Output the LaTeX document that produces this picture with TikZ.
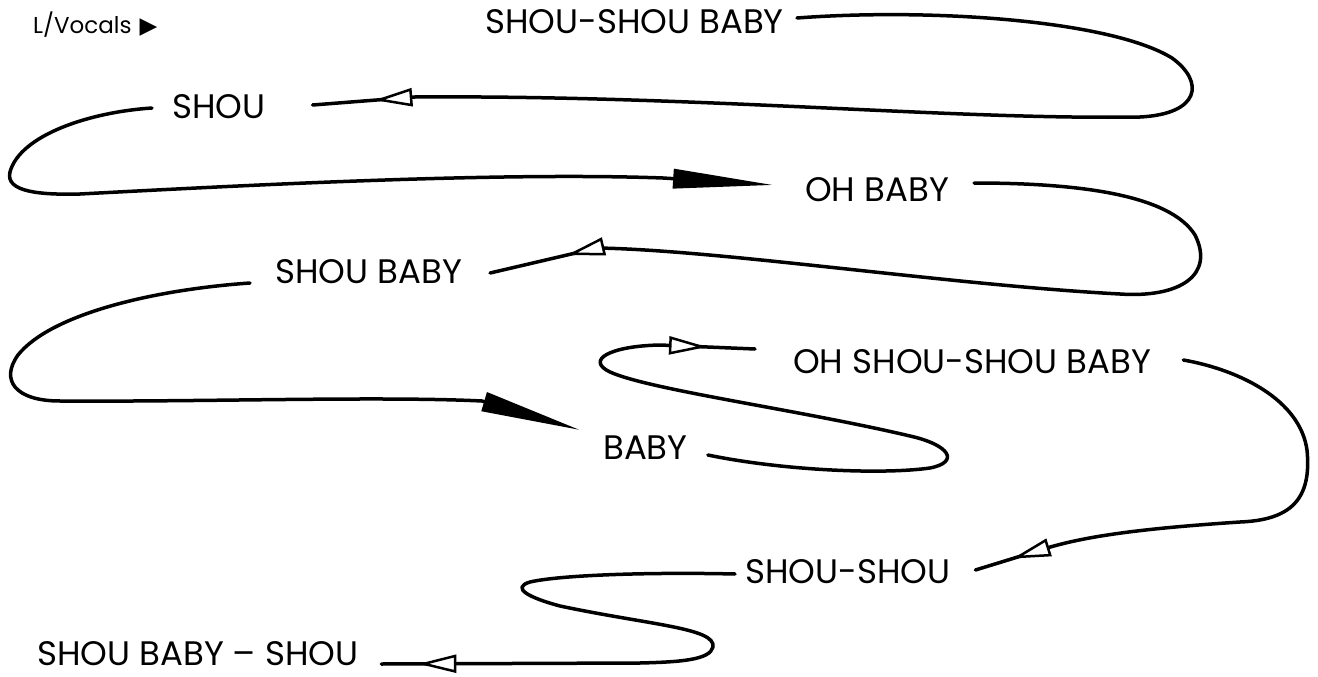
\documentclass[tikz,border=0pt]{standalone}
\usepackage{fontspec}
\usetikzlibrary{arrows.meta,decorations.markings,calc}
\newfontfamily\lyricfont{Poppins}
\newfontfamily\symfont{DejaVu Sans}

\tikzstyle{lyric}=[font=\lyricfont\fontsize{34}{34}\selectfont, inner sep=0pt, anchor=west]
\tikzstyle{small}=[font=\lyricfont\fontsize{23}{23}\selectfont, inner sep=0pt, anchor=west]
\tikzstyle{trail}=[line width=3.5pt, line cap=round, line join=round]
\tikzstyle{wedge}=[-{Triangle[length=100pt, width=19pt]}]
\tikzset{openat/.style={postaction={decorate}, decoration={markings,
    mark=at position #1 with {\arrow{Triangle[open, fill=white, length=38pt, width=18pt, line width=2.5pt]}}}}}

\begin{document}
\begin{tikzpicture}[x=1pt, y=-1pt]
	\useasboundingbox (0,0) rectangle (1318,677);
	%The lyric lines
	\node[small] (voc) at (33,25) {L/Vocals\hspace{8pt}{\symfont ▶}};
	\foreach \pos/\name/\txt in {{(485,22)/t1/SHOU-SHOU BABY},	{(172,107)/t2/SHOU},
								 {(805,190)/t3/OH BABY},		{(275,272)/t4/SHOU BABY},
								 {(793,362)/t5/OH SHOU-SHOU BABY},	{(603,448)/t6/BABY},
								 {(745,572)/t7/SHOU-SHOU},		{(37,654)/t8/SHOU BABY – SHOU}}
	\node[lyric] (\name) at \pos {\txt};
	%Right loop back to SHOU
	\draw[trail, openat=-62pt] ($(t1.east)+(13,-4)$) .. controls (930,8) and (1110,20) .. (1172,58)
		.. controls (1205,82) and (1200,114) .. (1140,117) .. controls (950,120) and (700,95) .. (415,97)
		-- ($(t2.east)+(47,-2)$);
	%Left loop on to OH BABY
	\draw[trail, wedge] ($(t2.west)+(-20,1)$) .. controls (90,112) and (20,135) .. (10,172)
		.. controls (5,192) and (40,195) .. (80,194) .. controls (250,185) and (500,172) .. (663,178)
		-- ($(t3.west)+(-32,-5)$);
	%Right loop back to SHOU BABY
	\draw[trail, openat=-79pt] ($(t3.east)+(25,-7)$) .. controls (1080,183) and (1170,195) .. (1195,235)
		.. controls (1215,275) and (1180,298) .. (1120,294) .. controls (950,285) and (720,250) .. (597,248)
		-- ($(t4.east)+(28,1)$);
	%Left loop on to BABY
	\draw[trail, wedge] ($(t4.west)+(-25,11)$) .. controls (150,290) and (50,315) .. (18,355)
		.. controls (0,380) and (15,401) .. (60,401) .. controls (200,402) and (380,396) .. (482,401)
		-- ($(t6.west)+(-23,-18)$);
	%Small S on to OH SHOU-SHOU BABY
	\draw[trail, openat=-48pt] ($(t6.east)+(20,7)$) .. controls (780,470) and (880,475) .. (930,468)
		.. controls (960,462) and (950,445) .. (910,436) .. controls (800,410) and (650,390) .. (610,372)
		.. controls (585,360) and (610,346) .. (660,345) -- ($(t5.west)+(-38,-13)$);
	%Big right loop back to SHOU-SHOU
	\draw[trail, openat=-39pt] ($(t5.east)+(32,-2)$) .. controls (1240,370) and (1300,400) .. (1307,450)
		.. controls (1312,500) and (1290,520) .. (1240,522) .. controls (1150,528) and (1090,535) .. (1047,548)
		-- ($(t7.east)+(25,-2)$);
	%Last S down to SHOU BABY - SHOU
	\draw[trail, openat=-37pt] ($(t7.west)+(-10,2)$) .. controls (650,572) and (560,575) .. (530,582)
		.. controls (510,588) and (530,598) .. (560,606) .. controls (650,625) and (716,628) .. (713,647)
		.. controls (710,660) and (680,662) .. (640,663) -- ($(t8.east)+(23,10)$);
\end{tikzpicture}
\end{document}
